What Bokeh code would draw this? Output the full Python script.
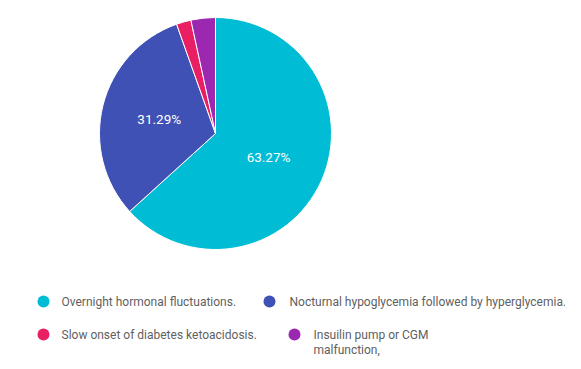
import math
from bokeh.plotting import figure
from bokeh.models import Range1d
from bokeh.core.properties import value
from bokeh.embed import file_html
from bokeh.resources import INLINE

labels = ["Overnight hormonal fluctuations.",
          "Nocturnal hypoglycemia followed by hyperglycemia.",
          "Slow onset of diabetes ketoacidosis.",
          "Insuilin pump or CGM\nmalfunction,"]
counts = [93, 46, 3, 5]
colors = ["#00BCD4", "#3F51B5", "#E91E63", "#9C27B0"]

W, H = 565, 361
p = figure(width=W, height=H, output_backend="svg", toolbar_location=None,
           x_range=Range1d(0, W), y_range=Range1d(369 - H, 369),
           min_border=0)
p.axis.visible = False
p.grid.visible = False
p.outline_line_color = None

def Y(ys):
    return 369 - ys

cx, cy, r = 215, Y(133), 116
total = sum(counts)
starts, ends, mids = [], [], []
a = math.pi / 2
for c in counts:
    sweep = 2 * math.pi * c / total
    starts.append(a - sweep)
    ends.append(a)
    mids.append(a - sweep / 2)
    a -= sweep

p.wedge(x=[cx] * 4, y=[cy] * 4, radius=r, start_angle=starts, end_angle=ends,
        fill_color=colors, line_color="white", line_width=1)

pct = [100 * c / total for c in counts]
lx, ly, lt = [], [], []
for m, v in zip(mids, pct):
    if v > 5:
        lx.append(cx + 0.5 * r * math.cos(m))
        ly.append(cy + 0.5 * r * math.sin(m))
        lt.append(f"{v:.2f}%")
p.text(x=lx, y=ly, text=lt, text_color="white", text_font=value("Roboto"),
       text_font_size="13.5px", text_align="center", text_baseline="middle")

# legend
mx = [43, 269, 43, 294]
my = [Y(301), Y(301), Y(334), Y(334)]
p.scatter(x=mx, y=my, size=12, fill_color=colors, line_color=None)
tx = [61, 289, 61, 313]
for x0, y0, t in zip(tx, my, labels):
    lines = t.split("\n")
    for i, ln in enumerate(lines):
        p.text(x=[x0], y=[y0 - 15 * i], text=[ln], text_color="#5f5f5f",
               text_font=value("Roboto"), text_font_size="12px",
               text_align="left", text_baseline="middle")

open("out.html", "w").write(file_html(p, INLINE))
